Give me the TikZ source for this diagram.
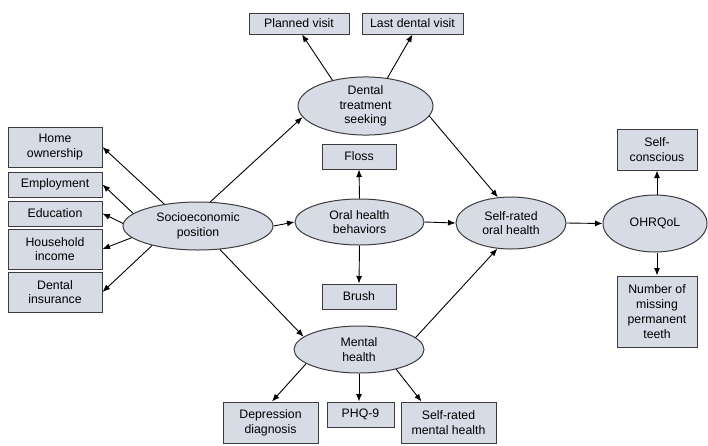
\documentclass[tikz,border=0pt]{standalone}
\usepackage{fontspec}
\setmainfont{Liberation Sans}
\usetikzlibrary{shapes.geometric,arrows.meta}
\definecolor{boxfill}{RGB}{215,219,230}
\definecolor{boxline}{RGB}{60,60,60}
\tikzset{
  x=1pt,y=-1pt,
  base/.style={draw=boxline,line width=1pt,fill=boxfill,inner sep=0pt,align=center,
    font=\fontsize{12.3}{14.8}\selectfont},
  obox/.style={base,rectangle},
  lat/.style={base,ellipse},
  arr/.style={-{Latex[length=7.5pt,width=6pt]},line width=0.9pt,black}
}
\begin{document}
\begin{tikzpicture}
\useasboundingbox (0,0) rectangle (708,445);
% left indicators
\node[obox,minimum width=94,minimum height=40] (home) at (55,147) {Home\\ownership};
\node[obox,minimum width=94,minimum height=25] (emp) at (55,184.5) {Employment};
\node[obox,minimum width=94,minimum height=25] (edu) at (55,213.5) {Education};
\node[obox,minimum width=94,minimum height=40] (inc) at (55,249) {Household\\income};
\node[obox,minimum width=94,minimum height=40] (ins) at (55,292) {Dental\\insurance};
% latent variables
\node[lat,minimum width=150,minimum height=48] (ses) at (198,226) {Socioeconomic\\position};
\node[lat,minimum width=135,minimum height=54] (dts) at (365.5,106) {Dental\\treatment\\seeking};
\node[lat,minimum width=129,minimum height=46] (ohb) at (359.5,222) {Oral health\\behaviors};
\node[lat,minimum width=130,minimum height=47] (mh) at (359,349.5) {Mental\\health};
\node[lat,minimum width=110,minimum height=52] (sroh) at (511,223) {Self-rated\\oral health};
\node[lat,minimum width=104,minimum height=57] (ohr) at (655,223.5) {OHRQoL};
% top boxes
\node[obox,minimum width=100,minimum height=21] (plan) at (299,23.5) {Planned visit};
\node[obox,minimum width=101,minimum height=21] (last) at (412.5,23.5) {Last dental visit};
% OHB boxes
\node[obox,minimum width=74,minimum height=25] (floss) at (359,156.5) {Floss};
\node[obox,minimum width=74,minimum height=25] (brush) at (359,296.5) {Brush};
% mental health boxes
\node[obox,minimum width=95,minimum height=41] (dep) at (270.5,422.5) {Depression\\diagnosis};
\node[obox,minimum width=67,minimum height=25] (phq) at (360.5,414.5) {PHQ-9};
\node[obox,minimum width=95,minimum height=41] (smh) at (448.5,422.5) {Self-rated\\mental health};
% OHRQoL boxes
\node[obox,minimum width=80,minimum height=41] (selfc) at (657,149.5) {Self-\\conscious};
\node[obox,minimum width=80,minimum height=71] (nmt) at (657,311.5) {Number of\\missing\\permanent\\teeth};
% arrows from SES
\draw[arr] (ses.147) -- (home.east);
\draw[arr] (ses.169) -- (emp.east);
\draw[arr] (ses.178) -- (edu.east);
\draw[arr] (ses.190) -- (inc.east);
\draw[arr] (ses.203) -- (ins.east);
\draw[arr] (ses.63) -- (dts.190);
\draw[arr] (ses.east) -- (ohb.west);
\draw[arr] (ses.313) -- (mh.167);
% DTS
\draw[arr] (dts.142) -- ([xshift=3pt]plan.south);
\draw[arr] (dts.52) -- (last.south);
\draw[arr] (dts.351) -- (sroh.117);
% OHB
\draw[arr] (ohb.north) -- (floss.south);
\draw[arr] (ohb.south) -- (brush.north);
\draw[arr] (ohb.east) -- (sroh.west);
% Mental health
\draw[arr] (mh.195) -- ([xshift=1.5pt]dep.north);
\draw[arr] (mh.south) -- (mh.south |- phq.north);
\draw[arr] (mh.332) -- ([xshift=21pt]smh.north west);
\draw[arr] (mh.12) -- (sroh.242);
% SROH -> OHRQoL
\draw[arr] (sroh.east) -- (ohr.west);
\draw[arr] (ohr.north -| selfc.south) -- (selfc.south);
\draw[arr] (ohr.south -| nmt.north) -- (nmt.north);
\end{tikzpicture}
\end{document}
